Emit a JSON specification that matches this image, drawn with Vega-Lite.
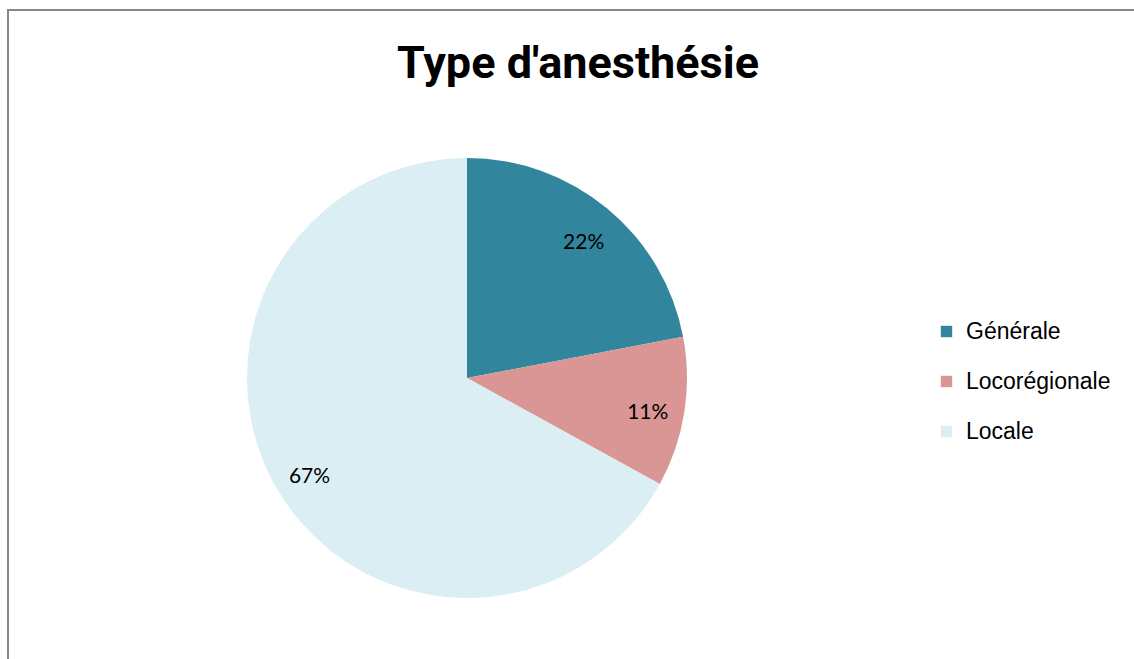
{
  "$schema": "https://vega.github.io/schema/vega-lite/v6.json",
  "autosize": {"type": "pad"},
  "padding": {"left": 7, "top": 9, "right": 0, "bottom": 0},
  "width": 1140,
  "height": 660,
  "background": "white",
  "title": {
    "text": "Type d'anesthésie",
    "font": "Roboto",
    "fontSize": 45,
    "fontWeight": "bold",
    "color": "#000000",
    "anchor": "middle",
    "offset": -78
  },
  "layer": [
    {
      "data": {"values": [{"frame": 1}]},
      "mark": {"type": "rect", "x": 0, "x2": "width", "y": 0, "y2": "height", "fill": null, "stroke": "#868686", "strokeWidth": 2},
      "encoding": {}
    },
    {
      "data": {
        "values": [
          {"type": "Générale", "pct": 22, "label": "22%", "order": 1},
          {"type": "Locorégionale", "pct": 11, "label": "11%", "order": 2},
          {"type": "Locale", "pct": 67, "label": "67%", "order": 3}
        ]
      },
      "encoding": {
        "theta": {"field": "pct", "type": "quantitative", "stack": true},
        "order": {"field": "order", "type": "ordinal"}
      },
      "layer": [
        {
          "mark": {"type": "arc", "outerRadius": 220, "x": 459, "y": 368},
          "encoding": {
            "color": {
              "field": "type",
              "type": "nominal",
              "sort": ["Générale", "Locorégionale", "Locale"],
              "scale": {
                "domain": ["Générale", "Locorégionale", "Locale"],
                "range": ["#31859C", "#D99694", "#DAEEF3"]
              },
              "legend": {
                "title": null,
                "orient": "none",
                "legendX": 927,
                "legendY": 310,
                "symbolType": "square",
                "symbolSize": 130,
                "symbolStrokeWidth": 0,
                "labelFont": "Liberation Sans",
                "labelFontSize": 23,
                "labelColor": "#000000",
                "labelOffset": 8,
                "rowPadding": 26,
                "padding": 0
              }
            }
          }
        },
        {
          "mark": {"type": "text", "radius": 183, "dy": 6, "x": 459, "y": 368, "font": "Lato", "fontSize": 21, "color": "#000000"},
          "encoding": {"text": {"field": "label", "type": "nominal"}}
        }
      ]
    }
  ],
  "config": {
    "view": {"stroke": null}
  }
}
